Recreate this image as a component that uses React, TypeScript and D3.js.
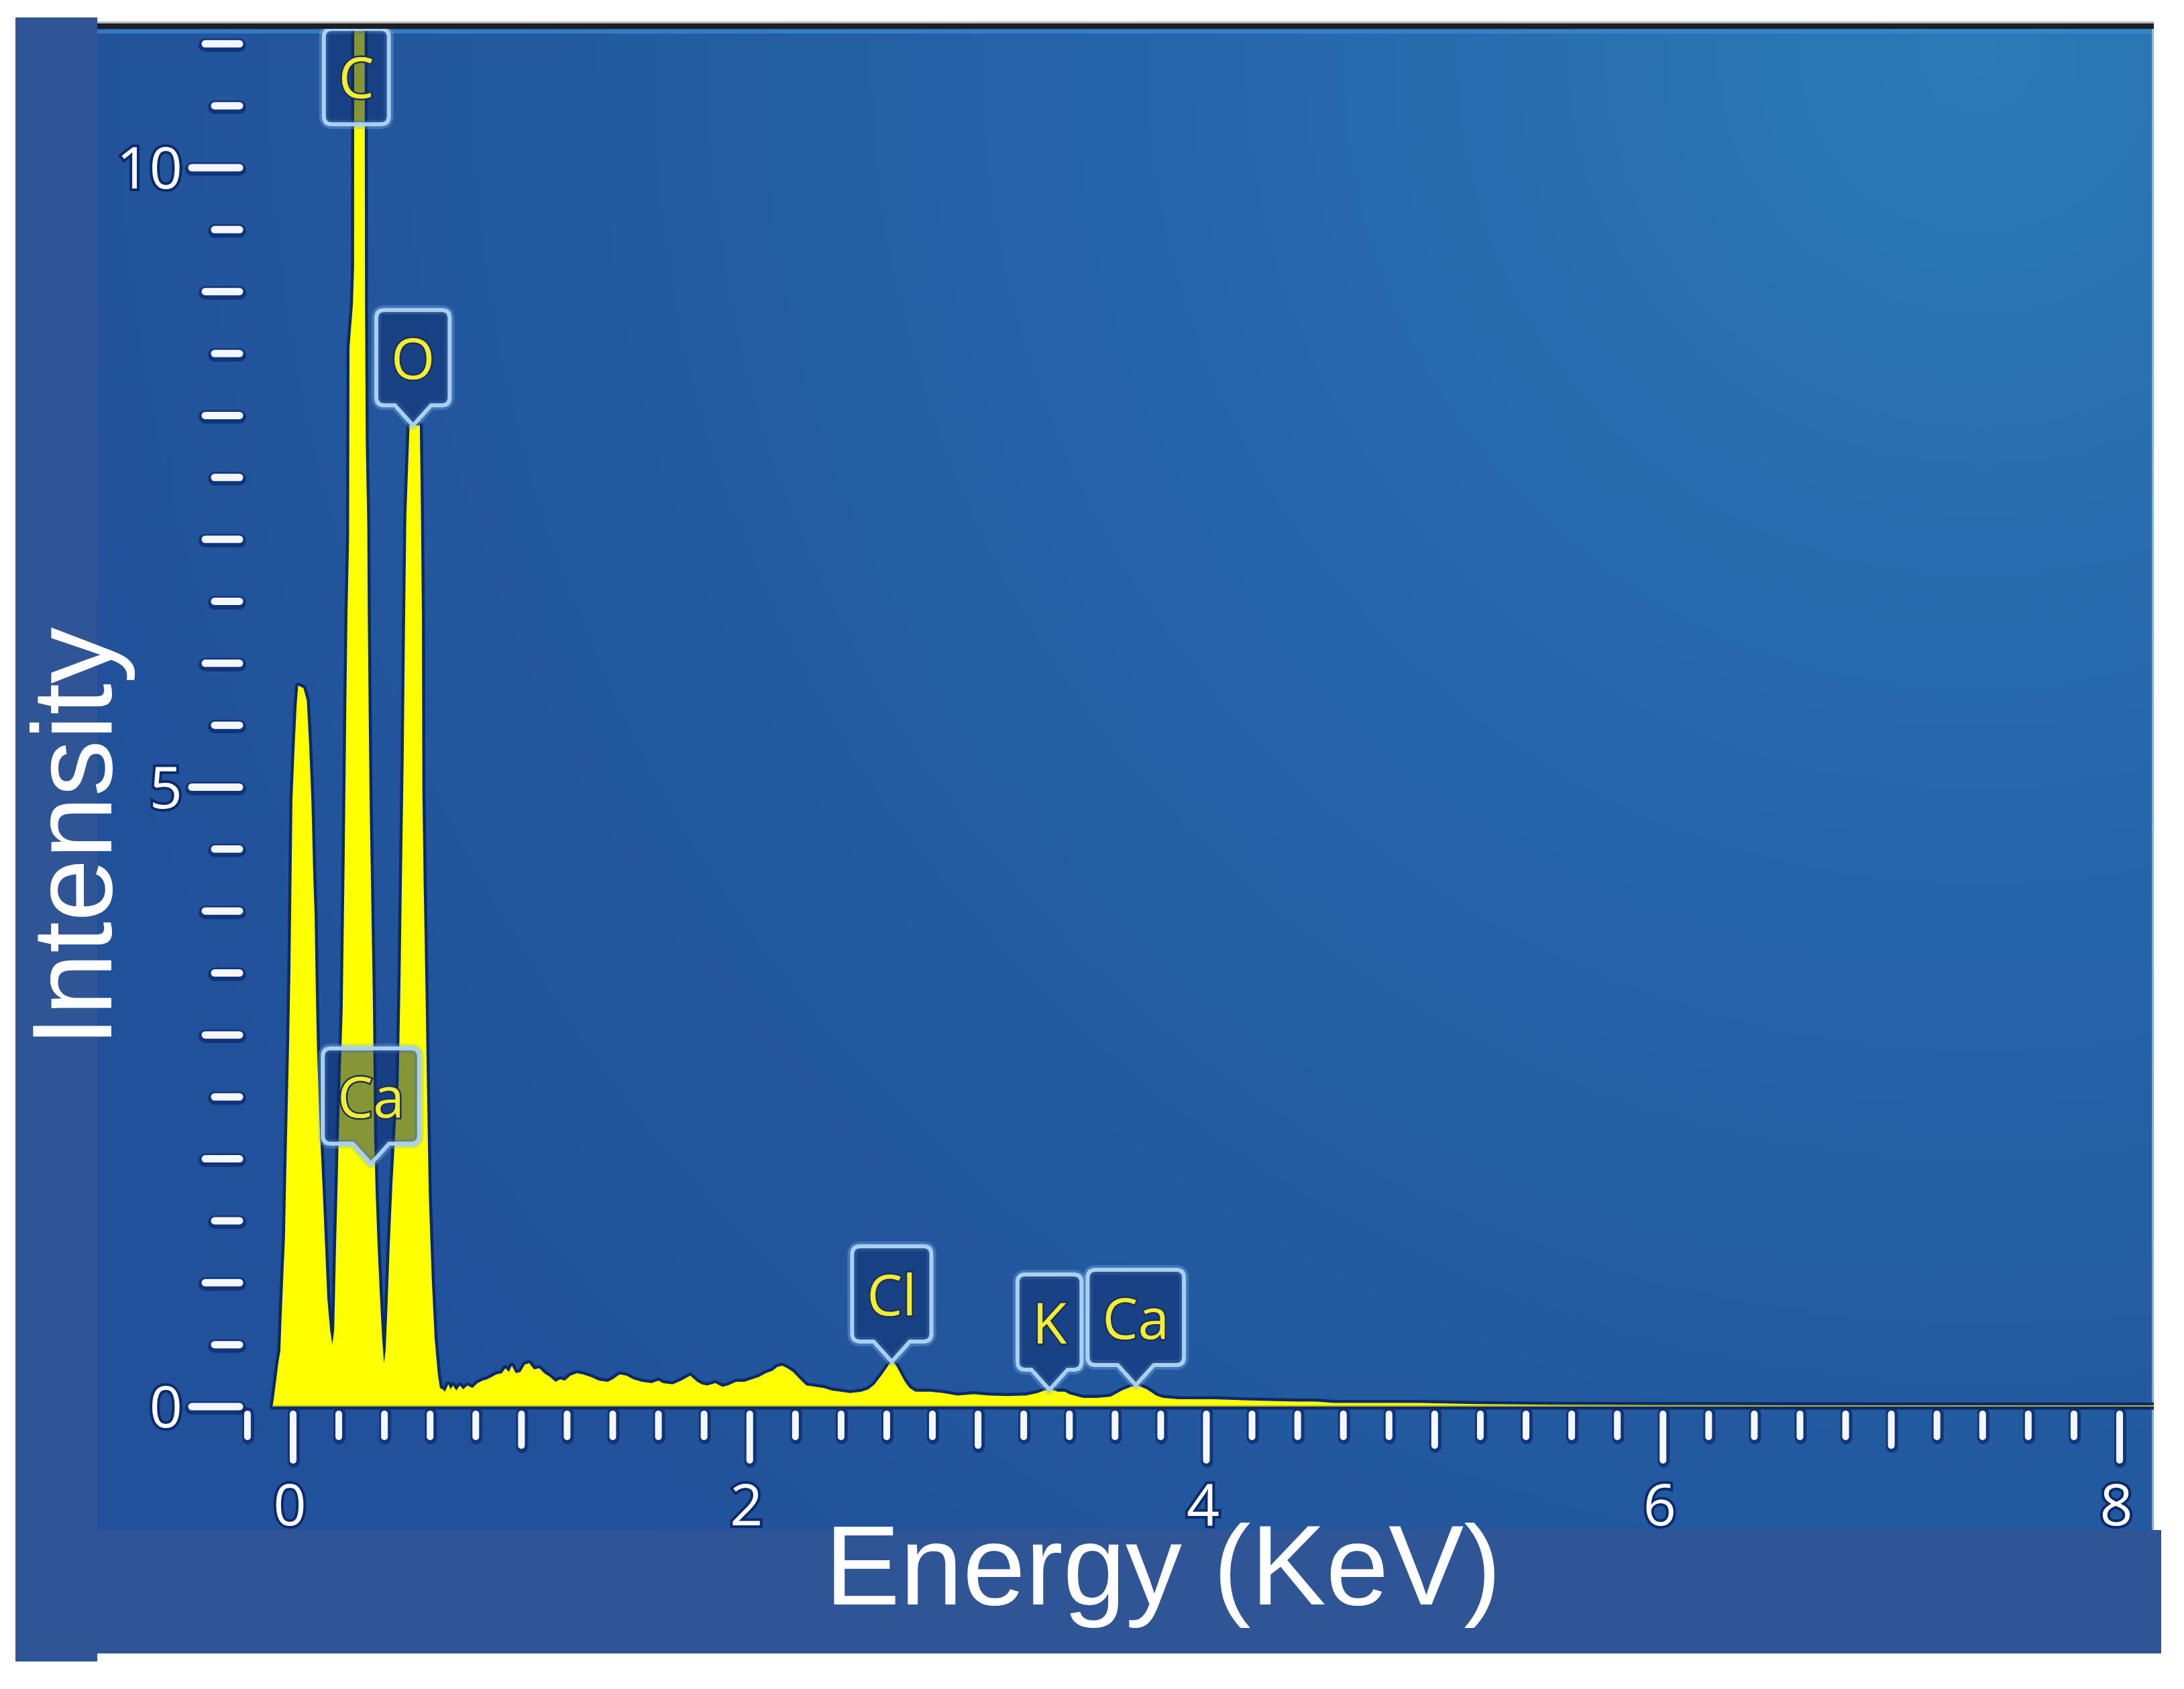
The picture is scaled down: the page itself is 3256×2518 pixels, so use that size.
import React from 'react';
import * as d3 from 'd3';

// spectrum (keV, intensity)
const energy = [
    -0.09, -0.085, -0.075, -0.065, -0.056, -0.05, -0.042, -0.036, -0.03, -0.024, -0.018, -0.012, -0.008, -0.003,
    0.006, 0.015, 0.022, 0.045, 0.06, 0.07, 0.08, 0.088, 0.094, 0.1, 0.105, 0.118, 0.13, 0.14, 0.15, 0.162, 0.172,
    0.18, 0.188, 0.195, 0.2, 0.21, 0.217, 0.222, 0.226, 0.232, 0.238, 0.245, 0.247, 0.262, 0.267, 0.268, 0.28, 0.3,
    0.313, 0.315, 0.318, 0.325, 0.327, 0.331, 0.335, 0.343, 0.35, 0.355, 0.362, 0.37, 0.38, 0.39, 0.398, 0.405,
    0.412, 0.423, 0.435, 0.45, 0.462, 0.47, 0.476, 0.484, 0.49, 0.496, 0.51, 0.555, 0.56, 0.564, 0.566, 0.572,
    0.58, 0.587, 0.594, 0.601, 0.608, 0.62, 0.628, 0.634, 0.643, 0.655, 0.665, 0.68, 0.69, 0.7, 0.715, 0.73, 0.745,
    0.764, 0.785, 0.808, 0.83, 0.85, 0.87, 0.89, 0.914, 0.93, 0.945, 0.958, 0.975, 0.996, 1.015, 1.034, 1.055,
    1.078, 1.1, 1.125, 1.15, 1.17, 1.19, 1.215, 1.243, 1.27, 1.304, 1.34, 1.378, 1.4, 1.43, 1.46, 1.49, 1.528,
    1.57, 1.6, 1.62, 1.663, 1.7, 1.72, 1.739, 1.77, 1.79, 1.813, 1.85, 1.88, 1.904, 1.94, 1.977, 2.01, 2.04, 2.07,
    2.1, 2.12, 2.142, 2.165, 2.189, 2.22, 2.248, 2.29, 2.324, 2.36, 2.398, 2.44, 2.489, 2.52, 2.547, 2.58, 2.61,
    2.625, 2.645, 2.665, 2.68, 2.7, 2.726, 2.79, 2.847, 2.91, 2.98, 3.05, 3.13, 3.21, 3.26, 3.29, 3.32, 3.35, 3.38,
    3.4, 3.46, 3.52, 3.58, 3.63, 3.67, 3.7, 3.74, 3.78, 3.81, 3.88, 3.95, 4.03, 4.1, 4.18, 4.3, 4.4, 4.48, 4.56,
    4.7, 4.93, 5.18, 5.5, 6.0, 7.0, 8.15
];
const intensity = [
    0, 0.06, 0.2, 0.35, 0.45, 0.75, 1.1, 1.35, 1.9, 2.4, 2.9, 3.5, 4.1, 4.9,
    5.3, 5.65, 5.82, 5.8, 5.7, 5.35, 4.9, 4.3, 3.98, 3.3, 2.86, 2.2, 1.73, 1.3, 0.87, 0.62, 0.5,
    0.62, 1.3, 1.8, 2.2, 2.8, 3.2, 3.9, 4.45, 5.5, 6.4, 7.0, 8.55, 8.9, 9.2, 11.8, 12.6, 12.4,
    11.5, 8.9, 7.8, 7.1, 6.4, 5.6, 4.9, 4.0, 3.2, 2.17, 1.7, 1.3, 0.9, 0.55, 0.35, 0.45,
    0.75, 1.3, 1.8, 2.3, 2.6, 3.4, 4.2, 5.2, 6.3, 7.2, 7.92, 7.92, 7.2, 6.4, 5.0, 4.2,
    3.35, 2.5, 1.73, 1.35, 1.0, 0.55, 0.38, 0.26, 0.15, 0.14, 0.12, 0.18, 0.14, 0.17, 0.13, 0.17, 0.14,
    0.17, 0.15, 0.19, 0.21, 0.22, 0.24, 0.26, 0.27, 0.31, 0.28, 0.33, 0.27, 0.28, 0.34, 0.35, 0.3,
    0.31, 0.27, 0.24, 0.2, 0.22, 0.21, 0.25, 0.27, 0.26, 0.24, 0.21, 0.2, 0.22, 0.26, 0.25, 0.22, 0.2,
    0.19, 0.21, 0.19, 0.18, 0.21, 0.23, 0.25, 0.2, 0.18, 0.17, 0.19, 0.16, 0.17, 0.2, 0.2, 0.22, 0.24, 0.27,
    0.29, 0.32, 0.33, 0.31, 0.28, 0.22, 0.17, 0.16, 0.15, 0.13, 0.12, 0.11, 0.12, 0.14, 0.18, 0.26, 0.34,
    0.37, 0.32, 0.25, 0.2, 0.15, 0.12, 0.12, 0.11, 0.09, 0.1, 0.09, 0.085, 0.09, 0.11, 0.13, 0.14, 0.12, 0.12,
    0.1, 0.07, 0.07, 0.08, 0.13, 0.16, 0.17, 0.14, 0.09, 0.07, 0.06, 0.06, 0.06, 0.055, 0.05, 0.045, 0.04, 0.04, 0.03,
    0.03, 0.03, 0.02, 0.015, 0.012, 0.01, 0.01
];

const xTickLabels = [0, 2, 4, 6, 8];
const yTickLabels = [0, 5, 10];

// element markers: name, line energy (keV), intensity at the marker tip
const peakNames = ['C', 'O', 'Ca', 'Cl', 'K', 'Ca'];
const peakEnergies = [0.277, 0.525, 0.341, 2.622, 3.313, 3.691];
const peakTips = [10.35, 7.92, 1.96, 0.363, 0.135, 0.173];
const peakPointers = [false, true, true, true, true, true];

const W = 3256;
const H = 2518;
const panel = { left: 145, top: 43, right: 3211, bottom: 2281 };

const x = d3.scaleLinear().domain([0, 8]).range([437, 3160]);
const y = d3.scaleLinear().domain([0, 10]).range([2097, 250]);

const halo = '#0b2a6e';
const labelFont = '84px "Open Sans", "DejaVu Sans", sans-serif';

function textWidth(s: string, font: string) {
    const ctx = document.createElement('canvas').getContext('2d');
    if (!ctx) return s.length * 50;
    ctx.font = font;
    return ctx.measureText(s).width;
}

function markerPath(cx: number, tipY: number, w: number, pointer: boolean) {
    const bodyH = 142;
    const ph = pointer ? 30 : 0;
    const pw = 27;
    const r = 12;
    const bottom = tipY - ph;
    const top = bottom - bodyH;
    const x0 = cx - w / 2;
    const x1 = cx + w / 2;
    const p = d3.path();
    p.moveTo(x0 + r, top);
    p.lineTo(x1 - r, top);
    p.quadraticCurveTo(x1, top, x1, top + r);
    p.lineTo(x1, bottom - r);
    p.quadraticCurveTo(x1, bottom, x1 - r, bottom);
    if (pointer) {
        p.lineTo(cx + pw, bottom);
        p.lineTo(cx, tipY);
        p.lineTo(cx - pw, bottom);
    }
    p.lineTo(x0 + r, bottom);
    p.quadraticCurveTo(x0, bottom, x0, bottom - r);
    p.lineTo(x0, top + r);
    p.quadraticCurveTo(x0, top, x0 + r, top);
    p.closePath();
    return { d: p.toString(), mid: top + bodyH / 2 };
}

export default function App() {
    const area = d3.area<number>()
        .x((_, i) => x(energy[i]))
        .y0(y(0))
        .y1((d) => y(d))
        .curve(d3.curveLinear);
    const spectrum = area(intensity) ?? '';

    const xTicks = d3.range(-1, 41).map((i) => ({ v: i / 5, kind: i % 10 === 0 ? 2 : i % 5 === 0 ? 1 : 0 }));
    const yTicks = d3.range(0, 23).map((i) => ({ v: i / 2, kind: i % 10 === 0 ? 2 : i % 2 === 0 ? 1 : 0 }));
    const xTickEnd = [2142, 2155, 2177];
    const yTickStart = [320, 306, 286];

    return (
        <div style={{ position: 'absolute', left: 0, top: 0 }}>
            <svg width={W} height={H} style={{ display: 'block' }}>
                <defs>
                    <radialGradient id="bg" gradientUnits="userSpaceOnUse" cx={2950} cy={80} r={3000}>
                        <stop offset="0" stopColor="#2c7ab8" />
                        <stop offset="0.12" stopColor="#2a74b3" />
                        <stop offset="0.4" stopColor="#2665aa" />
                        <stop offset="0.7" stopColor="#235a9f" />
                        <stop offset="1" stopColor="#21519a" />
                    </radialGradient>
                    <clipPath id="plot">
                        <rect x={panel.left} y={panel.top} width={panel.right - panel.left} height={panel.bottom - panel.top} />
                    </clipPath>
                </defs>
                <rect width={W} height={H} fill="#ffffff" />
                <rect x={23} y={26} width={panel.left - 23} height={2477 - 26} fill="#2f5597" />
                <rect x={panel.left} y={panel.bottom} width={3222 - panel.left} height={2465 - panel.bottom} fill="#2f5597" />
                <rect x={panel.left} y={panel.top} width={panel.right - panel.left} height={panel.bottom - panel.top} fill="url(#bg)" />
                <rect x={panel.left} y={44} width={panel.right - panel.left} height={6} fill="#3a8ad2" opacity={0.7} />
                <rect x={panel.right - 3} y={panel.top} width={3} height={panel.bottom - panel.top} fill="#cfe2f5" opacity={0.6} />

                {/* ticks */}
                <g strokeLinecap="round">
                    {yTicks.map((t) => (
                        <g key={`y${t.v}`}>
                            <line x1={yTickStart[t.kind]} x2={357} y1={y(t.v) + 2} y2={y(t.v) + 2} stroke={halo} strokeWidth={20} opacity={0.75} />
                            <line x1={yTickStart[t.kind]} x2={357} y1={y(t.v)} y2={y(t.v)} stroke="#f4f7fd" strokeWidth={11} />
                        </g>
                    ))}
                    {xTicks.map((t) => (
                        <g key={`x${t.v}`}>
                            <line x1={x(t.v) + 1} x2={x(t.v) + 1} y1={2107} y2={xTickEnd[t.kind] + 2} stroke={halo} strokeWidth={18} opacity={0.75} />
                            <line x1={x(t.v)} x2={x(t.v)} y1={2108} y2={xTickEnd[t.kind]} stroke="#f4f7fd" strokeWidth={10} />
                        </g>
                    ))}
                </g>

                {/* spectrum */}
                <g clipPath="url(#plot)">
                    <path d={spectrum} fill="none" stroke={halo} strokeWidth={9} strokeLinejoin="round" />
                    <path d={spectrum} fill="#ffff00" />
                    <line x1={x(-0.09)} x2={panel.right} y1={y(0) - 1} y2={y(0) - 1} stroke="#b8b820" strokeWidth={2} />
                </g>

                {/* element markers */}
                <g clipPath="url(#plot)">
                    {peakNames.map((name, i) => {
                        const w = Math.max(92, textWidth(name, labelFont) + 44);
                        const m = markerPath(x(peakEnergies[i]), y(peakTips[i]), w, peakPointers[i]);
                        return (
                            <g key={`${name}${i}`}>
                                <path d={m.d} fill="none" stroke="#7fb2e6" strokeWidth={14} opacity={0.35} strokeLinejoin="round" />
                                <path d={m.d} fill="rgba(14,44,108,0.5)" stroke="#a9d0f2" strokeWidth={6} strokeLinejoin="round" />
                                <text
                                    x={x(peakEnergies[i])}
                                    y={m.mid + 32}
                                    textAnchor="middle"
                                    fontFamily='"Open Sans", "DejaVu Sans", sans-serif'
                                    fontSize={84}
                                    fill="#f2ee30"
                                    stroke="#1b2f5e"
                                    strokeWidth={5}
                                    paintOrder="stroke"
                                >
                                    {name}
                                </text>
                            </g>
                        );
                    })}
                </g>

                {/* top border */}
                <rect x={panel.left} y={32} width={panel.right - panel.left} height={3} fill="#b5b5b5" />
                <rect x={panel.left} y={35} width={panel.right - panel.left} height={8} fill="#1c1f24" />

                {/* tick labels */}
                <g fontFamily='"Open Sans", "DejaVu Sans", sans-serif' fontSize={86} fill="#ffffff" stroke={halo} strokeWidth={8} paintOrder="stroke">
                    {yTickLabels.map((v) => (
                        <text key={`yl${v}`} x={272} y={y(v) + 31} textAnchor="end">{v}</text>
                    ))}
                    {xTickLabels.map((v) => (
                        <text key={`xl${v}`} x={x(v) - 5} y={2274} textAnchor="middle">{v}</text>
                    ))}
                </g>

                {/* axis titles */}
                <text
                    x={1734}
                    y={2392}
                    textAnchor="middle"
                    fontFamily='"Liberation Sans", Arial, sans-serif'
                    fontSize={168}
                    fill="#ffffff"
                >
                    Energy (KeV)
                </text>
                <text
                    transform="translate(166, 1248) rotate(-90)"
                    textAnchor="middle"
                    fontFamily='"Liberation Sans", Arial, sans-serif'
                    fontSize={168}
                    fill="#ffffff"
                >
                    Intensity
                </text>
            </svg>
        </div>
    );
}
